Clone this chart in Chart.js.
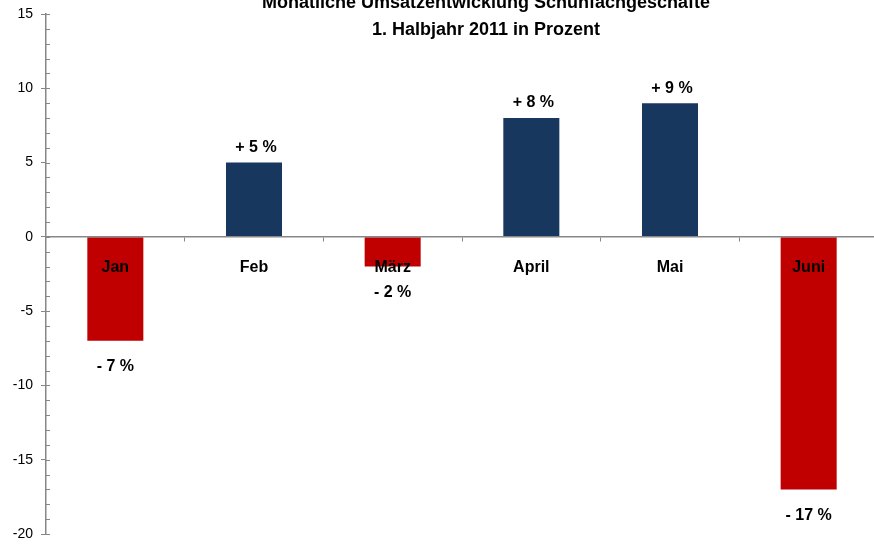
<!DOCTYPE html>
<html>
<head>
<meta charset="utf-8">
<script src="https://cdn.jsdelivr.net/npm/chart.js@4"></script>
<style>
  html, body { margin: 0; padding: 0; background: #fff; overflow: hidden; }
  #wrap { position: relative; width: 880px; height: 547px; }
</style>
</head>
<body>
<div id="wrap"><canvas id="c" width="880" height="547"></canvas></div>
<script>
const titleLines = ['Monatliche Umsatzentwicklung Schuhfachgeschäfte', '1. Halbjahr 2011 in Prozent'];
const categories = ['Jan', 'Feb', 'März', 'April', 'Mai', 'Juni'];
const values = [-7, 5, -2, 8, 9, -17];
const valueLabels = ['- 7 %', '+ 5 %', '- 2 %', '+ 8 %', '+ 9 %', '- 17 %'];
const yTicks = [-20, -15, -10, -5, 0, 5, 10, 15];

const FONT = "'Liberation Sans', Arial, Helvetica, sans-serif";
const AXIS_GREY = '#878787';
const POS = '#17375E';
const NEG = '#C00000';

const titlePlugin = {
  id: 'titleText',
  afterDraw(chart) {
    const ctx = chart.ctx;
    ctx.save();
    ctx.fillStyle = '#000';
    ctx.font = 'bold 18px ' + FONT;
    ctx.textAlign = 'center';
    ctx.textBaseline = 'alphabetic';
    ctx.fillText(titleLines[0], 486, 8);
    ctx.fillText(titleLines[1], 486, 35);
    ctx.restore();
  }
};

const minorTicks = {
  id: 'minorTicks',
  afterDraw(chart) {
    const y = chart.scales.y;
    const ctx = chart.ctx;
    ctx.save();
    ctx.strokeStyle = AXIS_GREY;
    ctx.lineWidth = 1;
    const x0 = chart.chartArea.left;
    for (let v = y.min; v <= y.max; v++) {
      const py = Math.round(y.getPixelForValue(v)) + 0.5;
      ctx.beginPath();
      ctx.moveTo(x0, py);
      ctx.lineTo(x0 + 4, py);
      ctx.stroke();
    }
    ctx.restore();
  }
};

const valueLabelPlugin = {
  id: 'valueLabels',
  afterDatasetsDraw(chart) {
    const ctx = chart.ctx;
    const meta = chart.getDatasetMeta(0);
    ctx.save();
    ctx.fillStyle = '#000';
    ctx.font = 'bold 16px ' + FONT;
    ctx.textAlign = 'center';
    ctx.textBaseline = 'middle';
    meta.data.forEach((bar, i) => {
      const v = values[i];
      const ty = v >= 0 ? bar.y - 15 : bar.y + 26;
      ctx.fillText(valueLabels[i], bar.x + (v >= 0 ? 2 : 0), ty);
    });
    ctx.restore();
  }
};

const zeroPad = s => { s.paddingTop = 0; s.paddingBottom = 0; };

new Chart(document.getElementById('c'), {
  type: 'bar',
  data: {
    labels: categories,
    datasets: [{
      data: values,
      backgroundColor: ctx => (values[ctx.dataIndex] >= 0 ? POS : NEG),
      borderWidth: 0,
      categoryPercentage: 1,
      barPercentage: 0.404
    }]
  },
  options: {
    responsive: false,
    animation: false,
    events: [],
    layout: { padding: { top: 14, bottom: 13, right: 2, left: 0 } },
    plugins: {
      legend: { display: false },
      title: { display: false },
      tooltip: { enabled: false }
    },
    scales: {
      x: {
        position: { y: 0 },
        offset: true,
        afterFit: zeroPad,
        grid: {
          display: true,
          drawOnChartArea: false,
          drawTicks: true,
          tickLength: 4,
          color: AXIS_GREY,
          offset: true
        },
        border: { display: true, color: AXIS_GREY, width: 1.5, z: 1 },
        ticks: {
          z: 2,
          color: '#000',
          font: { family: FONT, size: 16, weight: 'bold' },
          padding: 17,
          maxRotation: 0,
          autoSkip: false
        }
      },
      y: {
        min: -20,
        max: 15,
        afterFit: s => { s.width = 46; zeroPad(s); },
        afterBuildTicks: s => { s.ticks = yTicks.map(v => ({ value: v })); },
        grid: {
          display: true,
          drawOnChartArea: false,
          drawTicks: true,
          tickLength: 5,
          color: AXIS_GREY
        },
        border: { display: true, color: AXIS_GREY, width: 1.5 },
        ticks: {
          color: '#000',
          font: { family: FONT, size: 14 },
          padding: 8
        }
      }
    }
  },
  plugins: [minorTicks, valueLabelPlugin, titlePlugin]
});
</script>
</body>
</html>
